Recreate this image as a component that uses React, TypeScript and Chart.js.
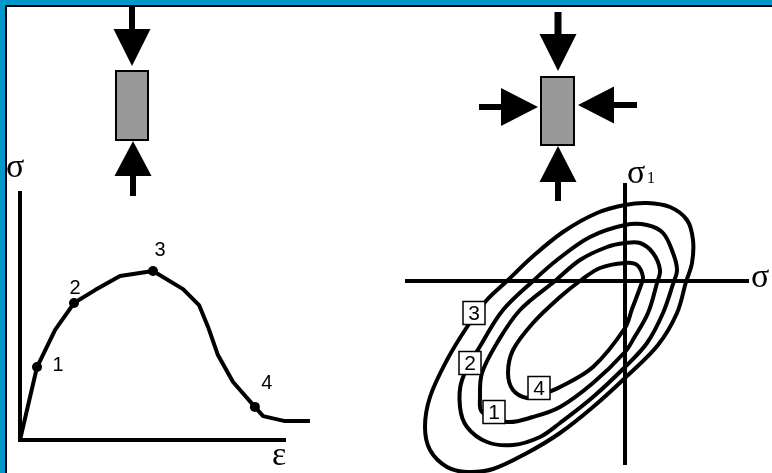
import { useEffect, useRef } from "react";
import { Chart, registerables } from "chart.js";

Chart.register(...registerables);

const WIDTH = 772;
const HEIGHT = 473;

// Uniaxial compression: stress–strain curve (arbitrary units)
const strain = [0, 0.64, 1.32, 2.03, 2.82, 3.76, 5.0, 6.13, 6.73, 7.07, 7.44, 8.01, 8.83, 9.14, 9.96, 10.9];
const stress = [0, 2.93, 4.42, 5.5, 6.02, 6.59, 6.79, 6.06, 5.42, 4.54, 3.41, 2.33, 1.33, 0.96, 0.76, 0.76];
const stageIndex = [1, 3, 6, 12];
const stageLabels = ["1", "2", "3", "4"];
const stageLabelOffsetX = [21, 1, 7, 12];
const stageLabelOffsetY = [-2, -15, -20, -23];
const strainMax = 10;
const stressMax = 10;

// Triaxial compression: loading surfaces in the σ–σ1 plane
const surface3X = [0, 0.88, 1.8, 2.48, 2.72, 2.68, 2.44, 2.08, 1.32, 0, -1.28, -2.6, -3.92, -5.28, -6.32, -7.12, -7.8, -8.0, -7.8, -7.12, -6.32, -5.56, -4.72, -3.76, -2.48, -1.12];
const surface3Y = [3.04, 3.12, 2.96, 2.44, 1.64, 0.72, -0.04, -1.28, -2.56, -3.88, -5.04, -6.08, -6.88, -7.52, -7.64, -7.44, -6.76, -5.84, -4.64, -3.16, -1.84, -0.8, 0, 0.92, 1.96, 2.72];
const surface2X = [0, 0.88, 1.52, 1.92, 2.08, 1.92, 1.52, 0.88, 0, -1.28, -2.6, -3.4, -4.48, -5.52, -6.32, -6.6, -6.52, -5.72, -4.88, -3.68, -2.72, -1.4];
const surface2Y = [2.24, 2.24, 1.92, 1.12, 0.44, -0.12, -1.28, -2.48, -3.44, -4.64, -5.68, -6.24, -6.56, -6.44, -5.84, -5.04, -3.96, -2.48, -1.16, 0, 0.84, 1.76];
const surface1X = [0, 0.6, 1.12, 1.4, 1.28, 0.92, 0.36, 0, -1.28, -2.6, -3.68, -4.72, -5.72, -5.8, -5.72, -5.12, -4.2, -2.8, -1.8, -0.72];
const surface1Y = [1.52, 1.52, 1.12, 0.44, -0.08, -1.28, -2.28, -2.84, -4.08, -5.04, -5.44, -5.64, -5.24, -4.64, -3.68, -2.48, -1.16, 0, 0.84, 1.36];
const surface4X = [0, 0.48, 0.72, 0.64, 0.28, 0, -1.28, -2.6, -3.4, -3.92, -4.48, -4.68, -4.48, -3.68, -2.6, -1.8, -1.0];
const surface4Y = [0.72, 0.64, 0.16, -0.16, -1.12, -1.88, -3.44, -4.24, -4.56, -4.68, -4.36, -3.68, -2.76, -1.68, -0.64, 0, 0.52];
const surfaceLabels = ["3", "2", "1", "4"];
const surfaceLabelX = [-6.04, -6.2, -5.24, -3.44];
const surfaceLabelY = [-1.28, -3.28, -5.24, -4.28];
const sigmaMin = -8.8;
const sigmaMax = 4.96;
const sigma1Min = -7.36;
const sigma1Max = 3.92;

const SANS = '"Liberation Sans", Arial, sans-serif';
const SERIF = '"Liberation Serif", "Times New Roman", serif';
const FRAME_BLUE = "#0099cc";
const SAMPLE_GREY = "#999999";

function pairs(xs: number[], ys: number[]) {
  return xs.map((x, i) => ({ x, y: ys[i] }));
}

type Dir = "down" | "up" | "left" | "right";

function arrow(
  ctx: CanvasRenderingContext2D,
  tipX: number,
  tipY: number,
  dir: Dir,
  headLen: number,
  headHalf: number,
  shaftLen: number,
  shaftHalf: number
) {
  const angle = dir === "right" ? 0 : dir === "down" ? Math.PI / 2 : dir === "left" ? Math.PI : -Math.PI / 2;
  ctx.save();
  ctx.translate(tipX, tipY);
  ctx.rotate(angle);
  ctx.fillStyle = "#000";
  ctx.beginPath();
  ctx.moveTo(0, 0);
  ctx.lineTo(-headLen, -headHalf);
  ctx.lineTo(-headLen, headHalf);
  ctx.closePath();
  ctx.fill();
  ctx.fillRect(-headLen - shaftLen, -shaftHalf, shaftLen + 1, shaftHalf * 2);
  ctx.restore();
}

function sample(ctx: CanvasRenderingContext2D, x0: number, y0: number, x1: number, y1: number) {
  ctx.save();
  ctx.fillStyle = SAMPLE_GREY;
  ctx.fillRect(x0, y0, x1 - x0, y1 - y0);
  ctx.strokeStyle = "#000";
  ctx.lineWidth = 2;
  ctx.strokeRect(x0 + 1, y0 + 1, x1 - x0 - 2, y1 - y0 - 2);
  ctx.restore();
}

// Closes every line dataset into a smooth loop
const loopPlugin = {
  id: "closedLoops",
  afterDatasetsUpdate(chart: any) {
    chart.data.datasets.forEach((_: any, i: number) => {
      const el = chart.getDatasetMeta(i).dataset;
      if (!el) return;
      el._loop = true;
      el._fullLoop = true;
      el._pointsUpdated = false;
      el._path = undefined;
      el._segments = undefined;
    });
  },
};

const uniaxialPlugin = {
  id: "uniaxialDecor",
  beforeDraw(chart: any) {
    const ctx: CanvasRenderingContext2D = chart.ctx;
    ctx.save();
    ctx.fillStyle = FRAME_BLUE;
    ctx.fillRect(0, 0, WIDTH, 5);
    ctx.fillRect(0, 0, 5, HEIGHT);
    ctx.fillStyle = "#000";
    ctx.fillRect(5, 5, WIDTH - 5, 2);
    ctx.fillRect(5, 5, 2, HEIGHT - 5);
    ctx.restore();

    arrow(ctx, 132, 66, "down", 37, 18.5, 22, 3);
    sample(ctx, 115, 70, 149, 141);
    arrow(ctx, 133, 141, "up", 35, 18.5, 20, 3);
  },
  beforeDatasetsDraw(chart: any) {
    const ctx: CanvasRenderingContext2D = chart.ctx;
    const { left, right, top, bottom } = chart.chartArea;
    ctx.save();
    ctx.strokeStyle = "#000";
    ctx.lineWidth = 4;
    ctx.lineCap = "butt";
    ctx.beginPath();
    ctx.moveTo(left, top);
    ctx.lineTo(left, bottom + 2);
    ctx.moveTo(left - 2, bottom);
    ctx.lineTo(right, bottom);
    ctx.stroke();
    ctx.restore();
  },
  afterDatasetsDraw(chart: any) {
    const ctx: CanvasRenderingContext2D = chart.ctx;
    const { left, right, top, bottom } = chart.chartArea;
    const pts = chart.getDatasetMeta(1).data;
    ctx.save();
    ctx.fillStyle = "#000";
    ctx.font = `20px ${SANS}`;
    ctx.textAlign = "center";
    ctx.textBaseline = "middle";
    stageLabels.forEach((t, i) => {
      const p = pts[i];
      ctx.fillText(t, p.x + stageLabelOffsetX[i], p.y + stageLabelOffsetY[i]);
    });
    ctx.textAlign = "left";
    ctx.textBaseline = "alphabetic";
    ctx.font = `34px ${SERIF}`;
    ctx.fillText("σ", left - 14, top - 14);
    ctx.fillText("ε", right - 14, bottom + 25);
    ctx.restore();
  },
};

const triaxialPlugin = {
  id: "triaxialDecor",
  beforeDraw(chart: any) {
    const ctx: CanvasRenderingContext2D = chart.ctx;
    arrow(ctx, 558, 71, "down", 37, 18.5, 22, 3.5);
    sample(ctx, 540, 76, 575, 146);
    arrow(ctx, 538, 107, "right", 37, 19, 22, 3);
    arrow(ctx, 578, 105, "left", 36, 18.5, 23, 3);
    arrow(ctx, 558, 146, "up", 36, 18.5, 19, 3);
  },
  beforeDatasetsDraw(chart: any) {
    const ctx: CanvasRenderingContext2D = chart.ctx;
    const { left, right, top, bottom } = chart.chartArea;
    const x0 = chart.scales.x.getPixelForValue(0);
    const y0 = chart.scales.y.getPixelForValue(0);
    ctx.save();
    ctx.strokeStyle = "#000";
    ctx.lineWidth = 4;
    ctx.beginPath();
    ctx.moveTo(left, y0);
    ctx.lineTo(right, y0);
    ctx.moveTo(x0, top);
    ctx.lineTo(x0, bottom);
    ctx.stroke();
    ctx.restore();
  },
  afterDatasetsDraw(chart: any) {
    const ctx: CanvasRenderingContext2D = chart.ctx;
    const { right, top } = chart.chartArea;
    const sx = chart.scales.x;
    const sy = chart.scales.y;
    const x0 = sx.getPixelForValue(0);
    const y0 = sy.getPixelForValue(0);
    ctx.save();
    surfaceLabels.forEach((t, i) => {
      const cx = sx.getPixelForValue(surfaceLabelX[i]);
      const cy = sy.getPixelForValue(surfaceLabelY[i]);
      const w = 22;
      const h = 23;
      ctx.fillStyle = "#fff";
      ctx.fillRect(cx - w / 2, cy - h / 2, w, h);
      ctx.strokeStyle = "#000";
      ctx.lineWidth = 1.5;
      ctx.strokeRect(cx - w / 2, cy - h / 2, w, h);
      ctx.fillStyle = "#000";
      ctx.font = `21px ${SANS}`;
      ctx.textAlign = "center";
      ctx.textBaseline = "middle";
      ctx.fillText(t, cx, cy + 1);
    });
    ctx.fillStyle = "#000";
    ctx.textAlign = "left";
    ctx.textBaseline = "alphabetic";
    ctx.font = `34px ${SERIF}`;
    ctx.fillText("σ", right + 2, y0 + 6);
    ctx.fillText("σ", x0 + 2, top);
    ctx.font = `16px ${SERIF}`;
    ctx.fillText("1", x0 + 22, top);
    ctx.restore();
  },
};

const baseOptions = {
  responsive: false,
  animation: false as const,
  devicePixelRatio: 1,
  events: [] as any[],
  plugins: { legend: { display: false }, tooltip: { enabled: false } },
};

export default function App() {
  const leftRef = useRef<HTMLCanvasElement>(null);
  const rightRef = useRef<HTMLCanvasElement>(null);

  useEffect(() => {
    const left = new Chart(leftRef.current as HTMLCanvasElement, {
      type: "line",
      data: {
        datasets: [
          {
            data: pairs(strain, stress),
            borderColor: "#000",
            borderWidth: 4,
            borderJoinStyle: "round",
            tension: 0,
            pointRadius: 0,
            clip: false,
          } as any,
          {
            data: stageIndex.map((k) => ({ x: strain[k], y: stress[k] })),
            showLine: false,
            pointRadius: 5,
            pointBackgroundColor: "#000",
            pointBorderColor: "#000",
            pointBorderWidth: 0,
            clip: false,
          } as any,
        ],
      },
      options: {
        ...baseOptions,
        layout: { padding: { left: 20, top: 191, right: WIDTH - 286, bottom: HEIGHT - 440 } },
        scales: {
          x: { type: "linear", display: false, min: 0, max: strainMax },
          y: { type: "linear", display: false, min: 0, max: stressMax },
        },
      } as any,
      plugins: [uniaxialPlugin],
    });

    const surfaces = [
      pairs(surface3X, surface3Y),
      pairs(surface2X, surface2Y),
      pairs(surface1X, surface1Y),
      pairs(surface4X, surface4Y),
    ];
    const right = new Chart(rightRef.current as HTMLCanvasElement, {
      type: "line",
      data: {
        datasets: surfaces.map((d) => ({
          data: d,
          borderColor: "#000",
          borderWidth: 4,
          tension: 0.35,
          pointRadius: 0,
          clip: false,
        })) as any,
      },
      options: {
        ...baseOptions,
        layout: { padding: { left: 405, top: 183, right: WIDTH - 749, bottom: HEIGHT - 465 } },
        scales: {
          x: { type: "linear", display: false, min: sigmaMin, max: sigmaMax },
          y: { type: "linear", display: false, min: sigma1Min, max: sigma1Max },
        },
      } as any,
      plugins: [loopPlugin, triaxialPlugin],
    });

    return () => {
      left.destroy();
      right.destroy();
    };
  }, []);

  const canvasStyle: React.CSSProperties = { position: "absolute", left: 0, top: 0 };
  return (
    <div style={{ position: "fixed", left: 0, top: 0, width: WIDTH, height: HEIGHT, background: "#fff" }}>
      <canvas ref={leftRef} width={WIDTH} height={HEIGHT} style={canvasStyle} />
      <canvas ref={rightRef} width={WIDTH} height={HEIGHT} style={canvasStyle} />
    </div>
  );
}
